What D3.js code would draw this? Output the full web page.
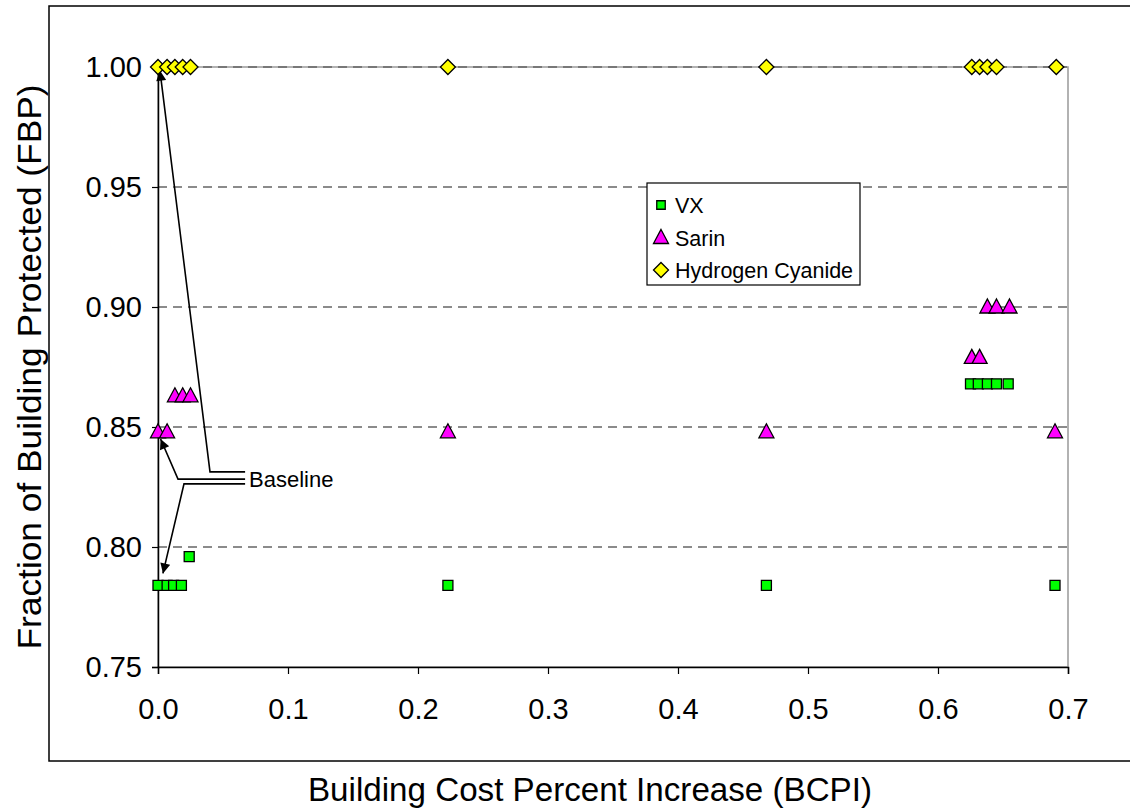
<!DOCTYPE html>
<html><head><meta charset="utf-8">
<script src="https://cdn.jsdelivr.net/npm/d3@7"></script>
<style>
body{margin:0;background:#fff;}
text{font-family:"Liberation Sans",Arial,sans-serif;fill:#000;}
</style></head>
<body><svg id="c" width="1130" height="812"></svg>
<script>
// ---- data ----
const vxX   = [0.000, 0.007, 0.012, 0.018, 0.024, 0.223, 0.468, 0.690, 0.625, 0.631, 0.638, 0.645, 0.654];
const vxY   = [0.784, 0.784, 0.784, 0.784, 0.796, 0.784, 0.784, 0.784, 0.868, 0.868, 0.868, 0.868, 0.868];
const sarX  = [0.000, 0.007, 0.013, 0.019, 0.025, 0.223, 0.468, 0.690, 0.626, 0.632, 0.638, 0.645, 0.655];
const sarY  = [0.848, 0.848, 0.863, 0.863, 0.863, 0.848, 0.848, 0.848, 0.879, 0.879, 0.900, 0.900, 0.900];
const hcnX  = [0.000, 0.007, 0.013, 0.019, 0.025, 0.223, 0.468, 0.626, 0.632, 0.638, 0.645, 0.691];
const hcnY  = [1.000, 1.000, 1.000, 1.000, 1.000, 1.000, 1.000, 1.000, 1.000, 1.000, 1.000, 1.000];
const seriesNames = ["VX", "Sarin", "Hydrogen Cyanide"];
const xTicks = [0, 0.1, 0.2, 0.3, 0.4, 0.5, 0.6, 0.7];
const yTicks = [0.75, 0.80, 0.85, 0.90, 0.95, 1.00];
const xTitle = "Building Cost Percent Increase (BCPI)";
const yTitle = "Fraction of Building Protected (FBP)";
const noteText = "Baseline";

const svg = d3.select("#c");
const W = 1130, H = 812;
const L = 158, R = 1068, T = 67, B = 667;
const x = d3.scaleLinear().domain([0, 0.7]).range([L, R]);
const y = d3.scaleLinear().domain([0.75, 1.0]).range([B, T]);

// outer frame
svg.append("rect").attr("x", 49).attr("y", 6).attr("width", W + 10).attr("height", 755)
  .attr("fill", "none").attr("stroke", "#000").attr("stroke-width", 1.5);

// plot border (gray)
svg.append("rect").attr("x", L).attr("y", T).attr("width", R - L).attr("height", B - T)
  .attr("fill", "none").attr("stroke", "#999").attr("stroke-width", 1.5);

// gridlines
svg.append("g").selectAll("line").data(yTicks.filter(v => v > 0.75)).join("line")
  .attr("x1", L).attr("x2", R).attr("y1", d => y(d)).attr("y2", d => y(d))
  .attr("stroke", "#666").attr("stroke-width", 1.5).attr("stroke-dasharray", "9,6");

// axes
const yAxis = svg.append("g").attr("transform", `translate(${L},0)`)
  .call(d3.axisLeft(y).tickValues(yTicks).tickFormat(d3.format(".2f")).tickSize(6).tickPadding(10));
const xAxis = svg.append("g").attr("transform", `translate(0,${B})`)
  .call(d3.axisBottom(x).tickValues(xTicks).tickFormat(d3.format(".1f")).tickSize(7).tickPadding(24));
[yAxis, xAxis].forEach(g => {
  g.select(".domain").attr("stroke", "#000").attr("stroke-width", 1.5);
  g.selectAll(".tick line").attr("stroke", "#000").attr("stroke-width", 1.2);
  g.selectAll("text").attr("font-size", 29).attr("font-family", "Liberation Sans, Arial, sans-serif").attr("fill", "#000");
});

// titles
svg.append("text").attr("x", 590).attr("y", 801).attr("text-anchor", "middle")
  .attr("font-size", 33).attr("textLength", 564).attr("lengthAdjust", "spacingAndGlyphs").text(xTitle);
svg.append("text").attr("transform", "translate(41,367) rotate(-90)").attr("text-anchor", "middle")
  .attr("font-size", 33).attr("textLength", 565).attr("lengthAdjust", "spacingAndGlyphs").text(yTitle);

// annotation (in data coords)
const px = v => x(v), py = v => y(v);
const defs = svg.append("defs");
defs.append("marker").attr("id", "ah").attr("viewBox", "0 0 10 10").attr("refX", 10).attr("refY", 5)
  .attr("markerWidth", 14).attr("markerHeight", 10).attr("markerUnits", "userSpaceOnUse")
  .attr("orient", "auto")
  .append("path").attr("d", "M0,0 L10,5 L0,10 Z").attr("fill", "#000");
const notes = [
  {tip: [0.0015, 0.9985], elbow: [0.040, 0.8313], end: [0.0670, 0.8313]},
  {tip: [0.0020, 0.8450], elbow: [0.0154, 0.8283], end: [0.0670, 0.8283]},
  {tip: [0.0038, 0.7890], elbow: [0.0200, 0.8263], end: [0.0670, 0.8263]}
];
const ann = svg.append("g");
notes.forEach(n => {
  ann.append("polyline")
    .attr("points", [[px(n.end[0]), py(n.end[1])], [px(n.elbow[0]), py(n.elbow[1])], [px(n.tip[0]), py(n.tip[1])]].map(p => p.join(",")).join(" "))
    .attr("fill", "none").attr("stroke", "#000").attr("stroke-width", 1.6)
    .attr("marker-end", "url(#ah)");
});
ann.append("text").attr("x", px(0.0700)).attr("y", py(0.8283) + 8).attr("font-size", 22).text(noteText);

// markers
const sq = d3.symbol().type(d3.symbolSquare).size(100);
const tri = "M0,-8 L7.5,6 L-7.5,6 Z";
const dia = "M0,-7.5 L7.5,0 L0,7.5 L-7.5,0 Z";
const styles = [
  {xs: vxX, ys: vxY, path: sq(), fill: "#00ff00"},
  {xs: sarX, ys: sarY, path: tri, fill: "#ff00ff"},
  {xs: hcnX, ys: hcnY, path: dia, fill: "#ffff00"}
];
styles.forEach(s => {
  svg.append("g").selectAll("path").data(s.xs.map((v, i) => [v, s.ys[i]])).join("path")
    .attr("d", s.path).attr("transform", d => `translate(${x(d[0])},${y(d[1])})`)
    .attr("fill", s.fill).attr("stroke", "#000").attr("stroke-width", 1.3);
});

// legend
const lg = svg.append("g").attr("transform", "translate(647,183)");
lg.append("rect").attr("width", 213).attr("height", 102).attr("fill", "#fff").attr("stroke", "#000").attr("stroke-width", 1.2);
seriesNames.forEach((nm, i) => {
  const yy = 22 + i * 32.5;
  lg.append("path").attr("d", i === 0 ? d3.symbol().type(d3.symbolSquare).size(72)() : (i === 1 ? tri : dia))
    .attr("transform", `translate(14,${yy})`).attr("fill", styles[i].fill).attr("stroke", "#000").attr("stroke-width", 1.3);
  lg.append("text").attr("x", 28).attr("y", yy + 8).attr("font-size", 21.5).text(nm);
});
</script></body></html>
